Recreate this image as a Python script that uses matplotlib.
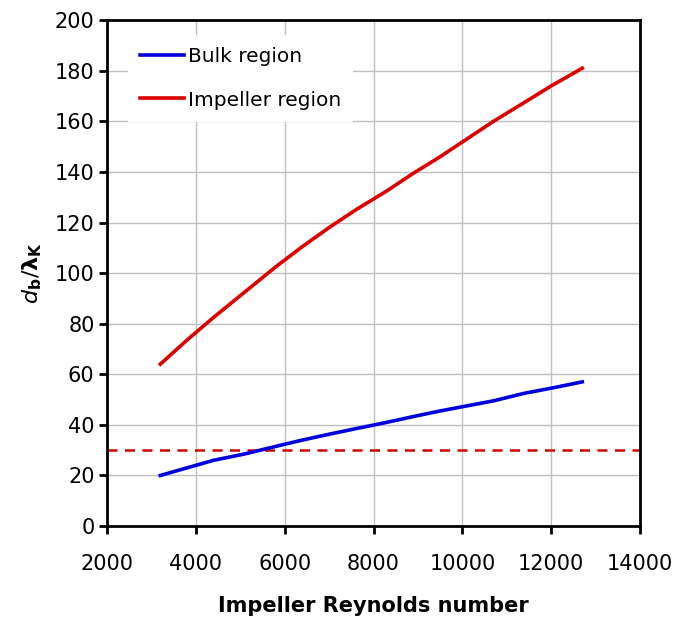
import matplotlib
matplotlib.use("Agg")
import matplotlib.pyplot as plt

# Impeller Reynolds number values
reynolds = [3200, 3800, 4400, 5100, 5800, 6400, 7000, 7600, 8300, 8900,
            9500, 10100, 10700, 11400, 12000, 12700]
bulk = [20, 23, 26, 28.5, 31.5, 34, 36.3, 38.5, 41, 43.3,
        45.5, 47.5, 49.5, 52.5, 54.5, 57]
impeller = [64, 73.5, 82.5, 92.5, 102.5, 110.5, 118, 125, 132.5, 139.5,
            146, 153, 160, 167.5, 174, 181]
threshold = 30

fig = plt.figure(figsize=(6.73, 6.30), dpi=100)
ax = fig.add_axes([0.159, 0.165, 0.792, 0.803])

ax.plot(reynolds, bulk, color='#0000dd', lw=2.6, label='Bulk region', zorder=3)
ax.plot(reynolds, impeller, color='#dd0000', lw=2.6, label='Impeller region', zorder=3)
ax.axhline(threshold, color='#cc0000', lw=1.8, ls=(0, (4, 3)), zorder=2)

ax.set_xlim(2000, 14000)
ax.set_ylim(0, 200)
ax.set_xticks(range(2000, 14001, 2000))
ax.set_yticks(range(0, 201, 20))
ax.grid(True, color='#c0c0c0', lw=1)
ax.set_axisbelow(True)

for s in ax.spines.values():
    s.set_linewidth(2)
ax.tick_params(axis='both', direction='out', length=6, width=2, labelsize=15)
ax.tick_params(axis='x', pad=14)
ax.tick_params(axis='y', pad=3)

ax.set_xlabel('Impeller Reynolds number', fontsize=15, fontweight='bold', labelpad=16)
ax.set_ylabel(r'$\mathbf{\mathit{d}}_{\mathbf{b}}/\mathbf{\lambda}_{\mathbf{K}}$',
              fontsize=16, labelpad=8)

leg = ax.legend(loc='upper left', fontsize=14.5, frameon=True, framealpha=1,
                edgecolor='none', fancybox=False, labelspacing=1.2,
                handlelength=2.2, handletextpad=0.2, borderpad=0.6,
                bbox_to_anchor=(0.02, 0.99))
leg.get_frame().set_linewidth(0)

fig.savefig('out.png', dpi=100)
